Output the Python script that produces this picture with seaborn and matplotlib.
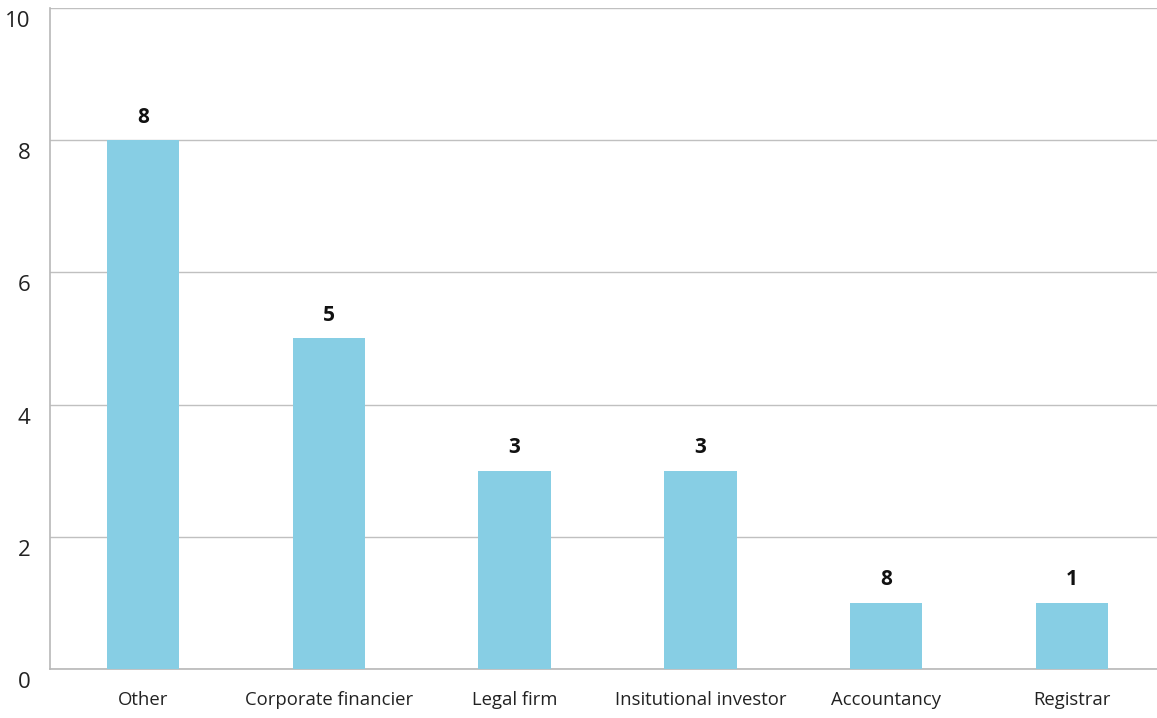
import matplotlib
matplotlib.use("Agg")
import matplotlib.pyplot as plt
import matplotlib.transforms as mtransforms
import seaborn as sns
import pandas as pd

categories = ["Other", "Corporate financier", "Legal firm", "Insitutional investor", "Accountancy", "Registrar"]
values = [8, 5, 3, 3, 1, 1]
bar_labels = ["8", "5", "3", "3", "8", "1"]
yticks = [0, 2, 4, 6, 8, 10]

sns.set_theme(style="white")
plt.rcParams['font.family'] = ['Open Sans', 'DejaVu Sans']

df = pd.DataFrame({"cat": categories, "val": values})

fig = plt.figure(figsize=(11.57, 7.18), dpi=100)
ax = fig.add_axes([50/1157, 49/718, 1115/1157, 661/718])
sns.barplot(data=df, x="cat", y="val", color="#87CEE4", width=0.39, saturation=1,
            linewidth=0, edgecolor="none", ax=ax, zorder=3)

ax.set_ylim(0, 10)
ax.set_xlim(-0.5, len(categories) - 0.5)
ax.set_yticks(yticks)
ax.set_yticklabels([str(t) for t in yticks], fontsize=16, color="#222222")
ax.tick_params(axis="y", length=0, pad=14)
ax.tick_params(axis="x", length=0, pad=16, labelsize=13.3, labelcolor="#222222")
ax.set_xlabel("")
ax.set_ylabel("")
for t in ax.get_yticklabels():
    t.set_transform(t.get_transform() + mtransforms.ScaledTranslation(0, -11/100, fig.dpi_scale_trans))

ax.yaxis.grid(True, color="#c0c0c0", linewidth=1, zorder=0)
for s in ["top", "right"]:
    ax.spines[s].set_visible(False)
for s in ["left", "bottom"]:
    ax.spines[s].set_color("#b8b8b8")
    ax.spines[s].set_linewidth(1.2)

for i, (v, lab) in enumerate(zip(values, bar_labels)):
    ax.annotate(lab, (i, v), xytext=(0, 9), textcoords="offset points",
                ha="center", va="bottom", fontsize=15, fontweight="bold", color="#111111")

fig.savefig("out.png", dpi=100)
